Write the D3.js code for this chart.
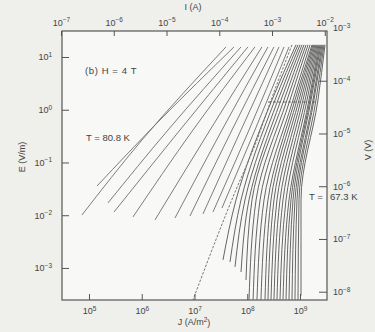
<!DOCTYPE html>
<html>
<head>
<meta charset="utf-8">
<script src="https://cdn.jsdelivr.net/npm/d3@7"></script>
<style>
  html, body { margin: 0; padding: 0; background: #efefec; }
  svg { display: block; font-family: "Liberation Sans", Arial, sans-serif; }
</style>
</head>
<body>
<svg id="chart" width="375" height="332"></svg>
<script>
// E-J isotherms at H = 4 T
// every curve is a list of [J (A/m^2), E (V/m)] points

const jTicks = [1e5, 1e6, 1e7, 1e8, 1e9];
const eTicks = [1e1, 1e0, 1e-1, 1e-2, 1e-3];
const iTicks = [1e-7, 1e-6, 1e-5, 1e-4, 1e-3, 1e-2];
const vTicks = [1e-8, 1e-7, 1e-6, 1e-5, 1e-4, 1e-3];

const sampleArea = 3.39e-12;   // I = J * area
const voltageLength = 2.82e-5; // V = E * length

// isotherms above T_g, starting at T = 80.8 K
const upperCurves = [
  [[7.36e4, 1.01e-2], [1.01e6, 0.267], [3.95e7, 15.5]],
  [[1.42e5, 3.58e-2], [2.22e6, 0.64], [5.61e7, 15.5]],
  [[2.29e5, 1.71e-2], [3.15e6, 0.413], [7.62e7, 15.5]],
  [[2.98e5, 1.15e-2], [5.31e6, 0.413], [1.03e8, 15.5]],
  [[6.82e5, 9.27e-3], [9.37e6, 0.413], [1.40e8, 15.5]],
  [[1.78e6, 8.13e-3], [1.97e7, 0.413], [1.90e8, 15.5]],
  [[4.27e6, 8.87e-3], [3.32e7, 0.413], [2.47e8, 15.5]],
  [[8.22e6, 9.68e-3], [5.14e7, 0.413], [3.21e8, 15.5]],
  [[1.45e7, 1.06e-2], [7.62e7, 0.413], [4.00e8, 15.5]],
  [[2.24e7, 1.15e-2], [1.08e8, 0.413], [4.98e8, 15.5]],
  [[3.32e7, 1.37e-2], [1.40e8, 0.413], [6.19e8, 15.5]]
];

// isotherms below T_g, down to T = 67.3 K
const lowerCurves = [
  [[3.47e7, 1.42e-3], [6.12e7, 1.95e-2], [2.94e8, 1.53], [8.40e8, 17]],
  [[4.71e7, 1.30e-3], [7.62e7, 1.95e-2], [3.36e8, 1.53], [9.17e8, 17]],
  [[5.86e7, 1.05e-3], [9.06e7, 1.95e-2], [3.83e8, 1.53], [1.00e9, 17]],
  [[7.62e7, 8.4e-4], [1.08e8, 1.95e-2], [4.36e8, 1.53], [1.09e9, 17]],
  [[9.47e7, 5.9e-4], [1.23e8, 1.95e-2], [4.98e8, 1.53], [1.19e9, 17]],
  [[1.08e8, 2.5e-4], [1.47e8, 1.95e-2], [5.68e8, 1.53], [1.30e9, 17]],
  [[1.29e8, 2.5e-4], [1.75e8, 1.95e-2], [6.46e8, 1.53], [1.42e9, 17]],
  [[1.53e8, 2.5e-4], [2.08e8, 1.95e-2], [7.37e8, 1.53], [1.55e9, 17]],
  [[1.82e8, 2.5e-4], [2.47e8, 1.95e-2], [8.04e8, 1.53], [1.69e9, 17]],
  [[2.17e8, 2.5e-4], [2.82e8, 1.95e-2], [8.77e8, 1.53], [1.76e9, 17]],
  [[2.47e8, 2.5e-4], [3.21e8, 1.95e-2], [9.58e8, 1.53], [1.84e9, 17]],
  [[2.82e8, 2.5e-4], [3.66e8, 1.95e-2], [1.045e9, 1.53], [1.92e9, 17]],
  [[3.21e8, 2.5e-4], [4.18e8, 1.95e-2], [1.14e9, 1.53], [2.01e9, 17]],
  [[3.66e8, 2.5e-4], [4.76e8, 1.95e-2], [1.25e9, 1.53], [2.10e9, 17]],
  [[4.18e8, 2.5e-4], [5.43e8, 1.95e-2], [1.36e9, 1.53], [2.19e9, 17]],
  [[4.76e8, 2.5e-4], [6.19e8, 1.95e-2], [1.48e9, 1.53], [2.29e9, 17]],
  [[5.43e8, 2.5e-4], [6.75e8, 1.95e-2], [1.55e9, 1.53], [2.39e9, 17]],
  [[6.19e8, 2.5e-4], [7.37e8, 1.95e-2], [1.62e9, 1.53], [2.50e9, 17]],
  [[7.05e8, 2.5e-4], [8.04e8, 1.95e-2], [1.76e9, 1.53], [2.61e9, 17]],
  [[8.04e8, 2.5e-4], [8.77e8, 1.95e-2], [1.84e9, 1.53], [2.73e9, 17]],
  [[9.17e8, 2.5e-4], [9.58e8, 1.95e-2], [2.01e9, 1.53], [2.85e9, 17]],
  [[1.045e9, 3.0e-4], [1.045e9, 1.95e-2], [2.19e9, 1.53], [2.98e9, 17]]
];

// T_g power law (dashed) and the short dashed marker
const separatrix = [[9.37e6, 2.5e-4], [5.37e7, 2.22e-2], [1.53e8, 0.267], [2.70e8, 1.34], [7.05e8, 17]];
const criterionLine = [[2.47e8, 1.40], [2.10e9, 1.40]];

const svg = d3.select('#chart');
const plotL = 62, plotR = 327, plotT = 31, plotB = 300;

const x = d3.scaleLog().domain([3.08e4, 3.25e9]).range([plotL, plotR]);
const y = d3.scaleLog().domain([2.47e-4, 31.1]).range([plotB, plotT]);
const xI = d3.scaleLog().domain(x.domain().map(d => d * sampleArea)).range([plotL, plotR]);
const yV = d3.scaleLog().domain(y.domain().map(d => d * voltageLength)).range([plotB, plotT]);

//plot area
svg.append('rect')
  .attr('x', plotL).attr('y', plotT)
  .attr('width', plotR - plotL).attr('height', plotB - plotT)
  .attr('fill', '#f8f8f6');

svg.append('clipPath').attr('id', 'clip')
  .append('rect')
  .attr('x', plotL).attr('y', plotT)
  .attr('width', plotR - plotL).attr('height', plotB - plotT);

const line = d3.line()
  .x(d => x(d[0]))
  .y(d => y(d[1]))
  .curve(d3.curveMonotoneY);

const byE = pts => pts.slice().sort((a, b) => b[1] - a[1]);

const curves = svg.append('g').attr('clip-path', 'url(#clip)');

curves.selectAll('.upper')
  .data(upperCurves)
  .enter()
  .append('path')
  .attr('class', 'upper')
  .attr('d', d => line(byE(d)))
  .attr('fill', 'none')
  .attr('stroke', '#6e6e6e')
  .attr('stroke-width', 0.9);

curves.selectAll('.lower')
  .data(lowerCurves)
  .enter()
  .append('path')
  .attr('class', 'lower')
  .attr('d', d => line(byE(d)))
  .attr('fill', 'none')
  .attr('stroke', '#555')
  .attr('stroke-width', 0.9);

curves.append('path')
  .attr('d', line(byE(separatrix)))
  .attr('fill', 'none')
  .attr('stroke', '#777')
  .attr('stroke-width', 1)
  .attr('stroke-dasharray', '2.5,1.5');

curves.append('path')
  .attr('d', d3.line().x(d => x(d[0])).y(d => y(d[1]))(criterionLine))
  .attr('fill', 'none')
  .attr('stroke', '#666')
  .attr('stroke-width', 1)
  .attr('stroke-dasharray', '3,2');

// superscript labels like 10^-3
function powerLabel(sel) {
  sel.each(function(d) {
    const t = d3.select(this);
    const p = Math.round(Math.log10(d));
    t.text(null);
    t.append('tspan').text('10');
    t.append('tspan')
      .attr('dy', '-0.55em')
      .attr('font-size', '0.72em')
      .text(String(p).replace('-', '\u2212'));
  });
}

function styleAxis(g) {
  g.select('.domain').remove();
  g.selectAll('.tick line').attr('stroke', '#555').attr('stroke-width', 1);
  g.selectAll('.tick text')
    .attr('fill', '#444')
    .attr('font-size', 9)
    .call(powerLabel);
}

svg.append('g')
  .attr('transform', `translate(0,${plotB})`)
  .call(d3.axisBottom(x).tickValues(jTicks).tickSize(-6).tickPadding(8))
  .call(styleAxis);

svg.append('g')
  .attr('transform', `translate(${plotL},0)`)
  .call(d3.axisLeft(y).tickValues(eTicks).tickSize(-7).tickPadding(10))
  .call(styleAxis);

svg.append('g')
  .attr('transform', `translate(0,${plotT})`)
  .call(d3.axisTop(xI).tickValues(iTicks).tickSize(-5).tickPadding(5))
  .call(styleAxis);

const rightAxis = svg.append('g')
  .attr('transform', `translate(${plotR},0)`)
  .call(d3.axisRight(yV).tickValues(vTicks).tickSize(-8).tickPadding(6))
  .call(styleAxis);
rightAxis.selectAll('.tick')
  .filter(d => yV(d) < plotT)
  .select('line').remove();

// frame
svg.append('rect')
  .attr('x', plotL).attr('y', plotT)
  .attr('width', plotR - plotL).attr('height', plotB - plotT)
  .attr('fill', 'none')
  .attr('stroke', '#555')
  .attr('stroke-width', 1.2);

// titles
svg.append('text')
  .attr('x', 194).attr('y', 325)
  .attr('text-anchor', 'middle')
  .attr('font-size', 9).attr('fill', '#444')
  .call(t => {
    t.append('tspan').text('J (A/m');
    t.append('tspan').attr('dy', '-0.5em').attr('font-size', '0.72em').text('2');
    t.append('tspan').attr('dy', '0.5em').text(')');
  });

svg.append('text')
  .attr('x', 193).attr('y', 10)
  .attr('text-anchor', 'middle')
  .attr('font-size', 9).attr('fill', '#444')
  .text('I (A)');

svg.append('text')
  .attr('transform', 'translate(25,157) rotate(-90)')
  .attr('text-anchor', 'middle')
  .attr('font-size', 9).attr('fill', '#444')
  .text('E (V/m)');

svg.append('text')
  .attr('transform', 'translate(371,150) rotate(-90)')
  .attr('text-anchor', 'middle')
  .attr('font-size', 9).attr('fill', '#444')
  .text('V (V)');

svg.append('text')
  .attr('x', 85).attr('y', 74)
  .attr('font-size', 9.5).attr('fill', '#444')
  .attr('letter-spacing', 0.6)
  .text('(b) H = 4 T');

svg.append('text')
  .attr('x', 86).attr('y', 141)
  .attr('font-size', 9.5).attr('fill', '#444')
  .text('T = 80.8 K');

svg.append('text')
  .attr('y', 200)
  .attr('font-size', 9.5).attr('fill', '#444')
  .call(t => {
    t.append('tspan').attr('x', 309).text('T =');
    t.append('tspan').attr('x', 330).text('67.3 K');
  });
</script>
</body>
</html>
